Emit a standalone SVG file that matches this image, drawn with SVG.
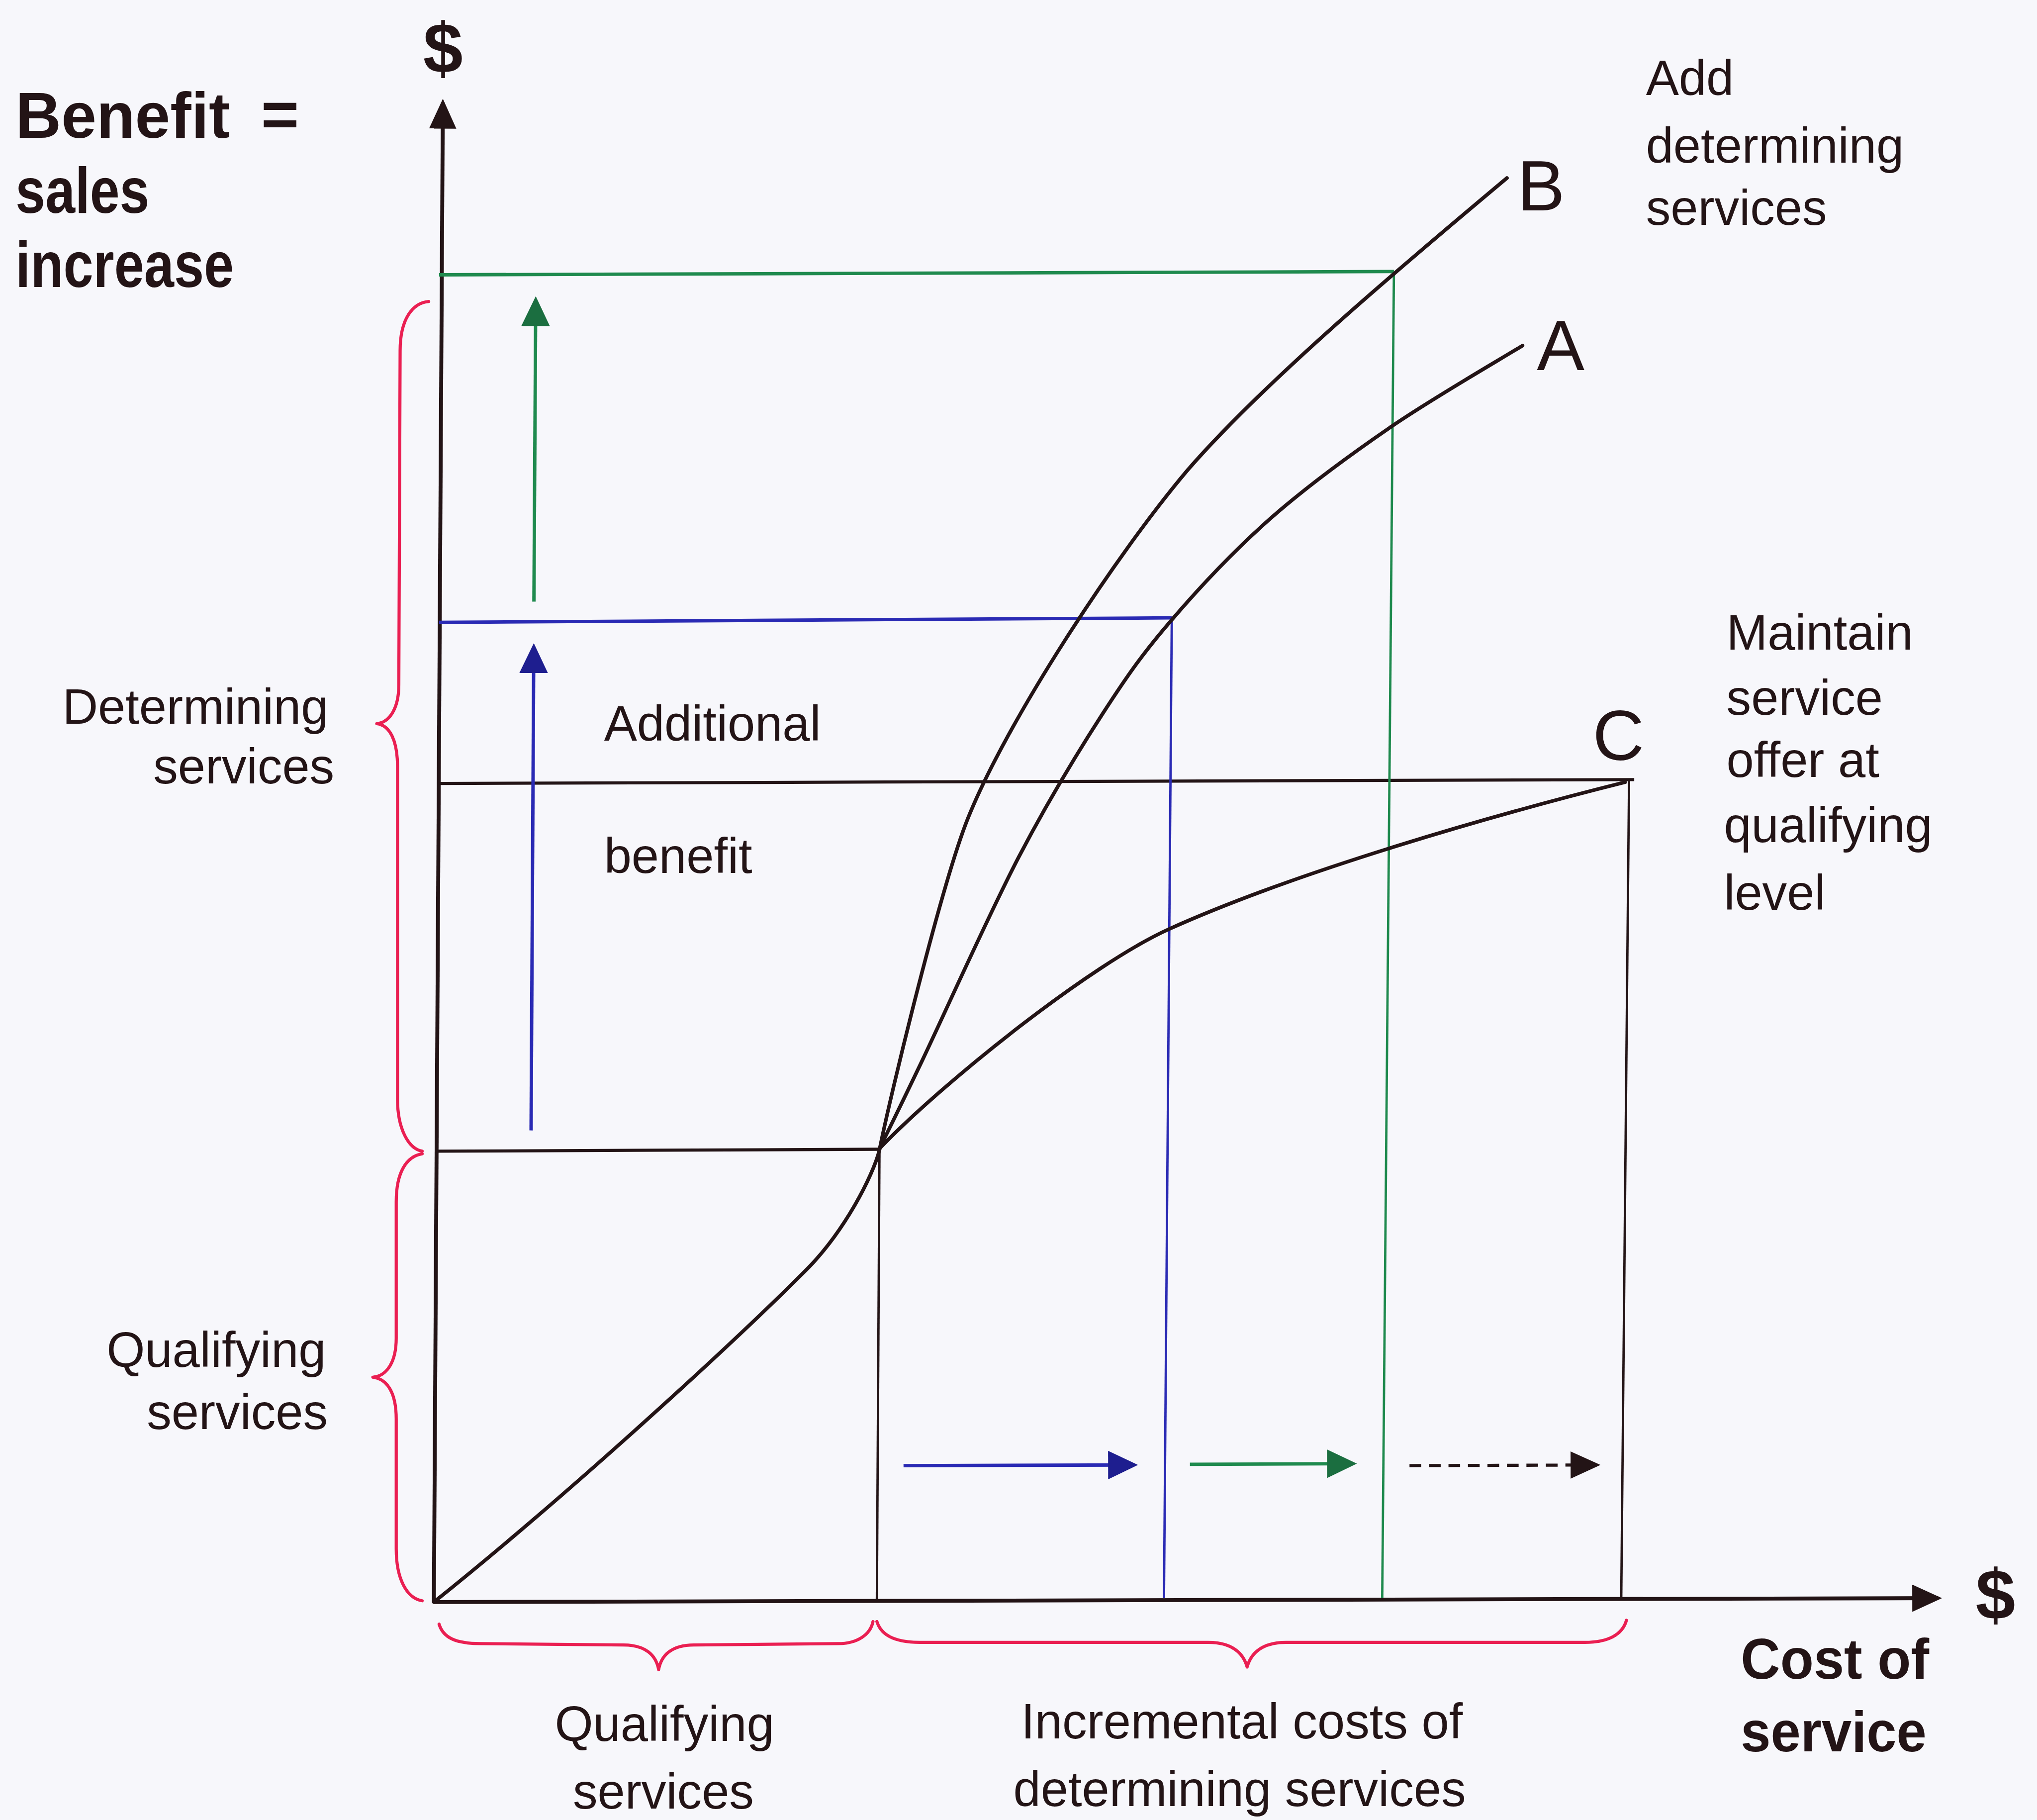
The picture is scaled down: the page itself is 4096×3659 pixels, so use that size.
<svg xmlns="http://www.w3.org/2000/svg" width="4096" height="3659" viewBox="0 0 4096 3659">
  <defs>
    <style>
      .bg{fill:#f7f7fb}
      .axis{stroke:#231416;stroke-width:3;fill:none}
      .level{stroke:#231416;stroke-width:2.4;fill:none}
      .drop{stroke:#231416;stroke-width:1.8;fill:none}
      .curve{stroke:#231416;stroke-width:2.8;fill:none;stroke-linejoin:round;stroke-linecap:round}
      .blue{stroke:#2a2ab4;fill:none}
      .green{stroke:#1f8a4e;fill:none}
      .hline{stroke-width:2.6}
      .vline{stroke-width:1.8}
      .shaft{stroke-width:2.6}
      .dash{stroke:#231416;stroke-width:2.4;stroke-dasharray:9 6;fill:none}
      .brace{stroke:#ea1f52;stroke-width:2.4;fill:none;stroke-linecap:round;stroke-linejoin:round}
      text{font-family:"Liberation Sans",Arial,Helvetica,sans-serif;fill:#231416}
      .t{font-size:38px}
      .big{font-size:50px;font-weight:bold}
      .bold{font-size:44px;font-weight:bold}
      .dollar{font-size:55px;font-weight:bold;text-anchor:middle}
      .letter{font-size:55px}
    </style>
    <marker id="head-k" markerUnits="userSpaceOnUse" viewBox="0 0 23 21" markerWidth="23" markerHeight="21" refX="20" refY="10.5" orient="auto">
      <path d="M0,0 L23,10.5 L0,21 z" fill="#231416"/>
    </marker>
    <marker id="head-b" markerUnits="userSpaceOnUse" viewBox="0 0 23 22" markerWidth="23" markerHeight="22" refX="20" refY="11" orient="auto">
      <path d="M0,0 L23,11 L0,22 z" fill="#1e1e8f"/>
    </marker>
    <marker id="head-g" markerUnits="userSpaceOnUse" viewBox="0 0 23 22" markerWidth="23" markerHeight="22" refX="20" refY="11" orient="auto">
      <path d="M0,0 L23,11 L0,22 z" fill="#1b6e40"/>
    </marker>
  </defs>

  <rect class="bg" x="0" y="0" width="4096" height="3659"/>

  <g transform="scale(2.6122)">
    <!-- axes -->
    <g id="axes">
      <line class="axis" x1="334" y1="1233" x2="340.9" y2="79" marker-end="url(#head-k)"/>
      <line class="axis" x1="334" y1="1233" x2="1492" y2="1230" marker-end="url(#head-k)"/>
    </g>

    <!-- guide lines: levels and costs of each offer -->
    <g id="guides">
      <line class="level" x1="336" y1="886" x2="677" y2="884.5"/>
      <line class="drop" x1="677" y1="885" x2="675" y2="1231"/>
      <line class="level" x1="337" y1="603" x2="1258" y2="600"/>
      <line class="drop" x1="1254" y1="600" x2="1248" y2="1230"/>
      <line class="blue hline" x1="338" y1="479" x2="902" y2="475.5"/>
      <line class="blue vline" x1="902" y1="476" x2="896" y2="1230"/>
      <line class="green hline" x1="338" y1="211.5" x2="1073" y2="209"/>
      <line class="green vline" x1="1073" y1="209" x2="1064" y2="1230"/>
    </g>

    <!-- benefit curves -->
    <g id="curves">
      <path id="curve-base" class="curve" d="M334,1233 C434,1153 560,1038 620,978 C650,948 672,905 677,885"/>
      <path id="curve-b" class="curve" d="M677,885 C686,840 725,680 745,630 C775,555 859,427 914,362 C974,293 1080,204 1160,137"/>
      <path id="curve-a" class="curve" d="M677,884 C682.5,872.7 692.2,853.3 710,816 C727.8,778.7 760.8,704.5 784,660 C807.2,615.5 829.3,579.5 849,549 C868.7,518.5 880.5,502 902,477 C923.5,452 950,423.7 978,399 C1006,374.3 1037.7,351.2 1070,329 C1102.3,306.8 1155,276.5 1172,266"/>
      <path id="curve-c" class="curve" d="M677,884 C727,832 840,742 900,715 C1000,670 1151,627 1251,602"/>
    </g>

    <!-- arrows showing added benefit and added cost -->
    <g id="connectors">
      <line class="green shaft" x1="411" y1="463" x2="412.4" y2="231" marker-end="url(#head-g)"/>
      <line class="blue shaft" x1="408.8" y1="870" x2="410.9" y2="498" marker-end="url(#head-b)"/>
      <line class="blue shaft" x1="695.5" y1="1128" x2="873" y2="1127.5" marker-end="url(#head-b)"/>
      <line class="green shaft" x1="916" y1="1127" x2="1041.5" y2="1126.5" marker-end="url(#head-g)"/>
      <line class="dash" x1="1085" y1="1128" x2="1229" y2="1127.5" marker-end="url(#head-k)"/>
    </g>

    <!-- braces -->
    <g id="braces">
      <path id="brace-determining" class="brace" d="M330,232 C318,233 308,245 308,270 L307,527 C307,545 300,556 290,557 C300,558 306,570 306,590 L306,846 C306,868 314,884 325,886"/>
      <path id="brace-qualifying" class="brace" d="M325,888 C313,890 305,902 305,925 L305,1030 C305,1048 298,1059 287,1060 C298,1061 305,1072 305,1092 L305,1192 C305,1215 313,1230 325,1232"/>
      <path id="brace-qual-cost" class="brace" d="M338,1250 C341,1260 350,1265 370,1265 L480,1266 C497,1266 505,1274 507,1285 C509,1274 517,1266 534,1266 L645,1265 C660,1265 670,1258 672,1248"/>
      <path id="brace-incr-cost" class="brace" d="M675,1248 C678,1258 688,1264 708,1264 L930,1264 C948,1264 957,1272 960,1283 C963,1272 972,1264 990,1264 L1220,1264 C1238,1264 1249,1258 1252,1247"/>
    </g>

    <!-- axis titles -->
    <g id="y-title">
      <text class="dollar" x="341" y="56">$</text>
      <text class="big" x="12" y="106" textLength="165" lengthAdjust="spacingAndGlyphs">Benefit</text>
      <text class="big" x="201" y="105">=</text>
      <text class="big" x="12" y="164" textLength="103" lengthAdjust="spacingAndGlyphs">sales</text>
      <text class="big" x="12" y="221" textLength="168" lengthAdjust="spacingAndGlyphs">increase</text>
    </g>
    <g id="x-title">
      <text class="dollar" x="1536" y="1246">$</text>
      <text class="bold" x="1340" y="1292" textLength="145" lengthAdjust="spacingAndGlyphs">Cost of</text>
      <text class="bold" x="1340" y="1348" textLength="143" lengthAdjust="spacingAndGlyphs">service</text>
    </g>

    <!-- curve letters -->
    <g id="curve-labels">
      <text class="letter" x="1168" y="162">B</text>
      <text class="letter" x="1183" y="285">A</text>
      <text class="letter" x="1226" y="585">C</text>
    </g>

    <!-- notes -->
    <g id="note-add">
      <text class="t" x="1267" y="73">Add</text>
      <text class="t" x="1267" y="125">determining</text>
      <text class="t" x="1267" y="173">services</text>
    </g>
    <g id="note-maintain">
      <text class="t" x="1329" y="500">Maintain</text>
      <text class="t" x="1329" y="550">service</text>
      <text class="t" x="1329" y="598">offer at</text>
      <text class="t" x="1327" y="648">qualifying</text>
      <text class="t" x="1327" y="700">level</text>
    </g>
    <g id="note-benefit">
      <text class="t" x="465" y="570">Additional</text>
      <text class="t" x="465" y="672">benefit</text>
    </g>
    <g id="label-determining">
      <text class="t" x="48" y="557">Determining</text>
      <text class="t" x="118" y="603">services</text>
    </g>
    <g id="label-qualifying">
      <text class="t" x="82" y="1052">Qualifying</text>
      <text class="t" x="113" y="1100">services</text>
    </g>
    <g id="label-qual-cost">
      <text class="t" x="427" y="1340">Qualifying</text>
      <text class="t" x="441" y="1392">services</text>
    </g>
    <g id="label-incr-cost">
      <text class="t" x="786" y="1338">Incremental costs of</text>
      <text class="t" x="780" y="1390">determining services</text>
    </g>
  </g>
</svg>
